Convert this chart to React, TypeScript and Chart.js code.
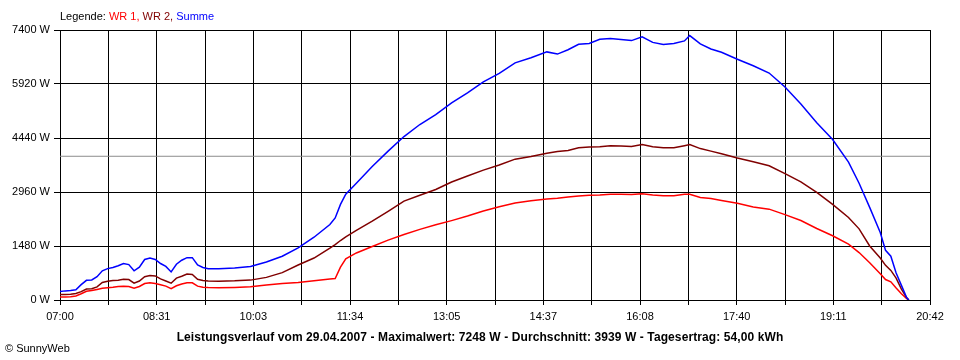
import React, { useEffect, useRef } from 'react';
import { Chart, registerables } from 'chart.js';

Chart.register(...registerables);

// Sample times (clock time)
const times = [
  '07:00','07:05','07:10','07:15','07:20','07:25','07:30','07:35','07:40','07:45',
  '07:50','07:55','08:00','08:05','08:10','08:15','08:20','08:25','08:30','08:35',
  '08:40','08:45','08:50','08:55','09:00','09:05','09:10','09:15','09:20',
  '09:30','09:45','10:00','10:15','10:30','10:45','11:00','11:15',
  '11:20','11:25','11:30',
  '11:40','11:55','12:10','12:25','12:40','12:55','13:10','13:25','13:40','13:55','14:10','14:25','14:40',
  '14:50','15:00','15:10','15:20','15:30','15:40','15:50','16:00','16:10','16:20','16:30','16:40','16:50',
  '16:55',
  '17:05','17:15','17:25',
  '17:40','17:55','18:10','18:25','18:40','18:55','19:10','19:25',
  '19:35','19:45','19:55',
  '20:00','20:05','20:10','20:15','20:20','20:22',
];

// WR 1 (W)
const wr1 = [
  80,80,90,110,170,240,260,290,320,335,350,370,380,370,320,370,450,470,450,420,380,310,390,440,470,470,380,350,340,
  335,345,360,410,450,480,530,575,
  590,900,1130,
  1290,1465,1640,1795,1935,2060,2175,2300,2440,2555,2660,2720,2770,
  2790,2820,2850,2870,2880,2900,2900,2890,2910,2880,2860,2860,2900,
  2900,
  2810,2780,2730,
  2650,2550,2490,2340,2180,1960,1760,1530,
  1300,1020,720,
  560,500,330,170,40,0,
];

// WR 2 (W)
const wr2 = [
  150,150,160,180,230,300,310,360,480,515,535,540,570,560,460,520,640,670,660,580,520,460,600,650,710,700,570,535,520,
  515,525,545,620,750,960,1150,1420,
  1520,1630,1730,
  1910,2160,2430,2710,2870,3030,3235,3400,3560,3700,3860,3930,4020,
  4070,4100,4170,4190,4200,4230,4220,4210,4260,4200,4170,4170,4230,
  4260,
  4150,4080,4010,
  3890,3790,3680,3465,3240,2950,2620,2260,
  1950,1480,1150,
  950,810,600,300,60,0,
];

// Summe (W)
const summe = [
  230,250,260,280,420,540,550,640,800,860,890,940,1000,970,800,900,1110,1150,1110,1000,920,770,980,1090,1160,1160,960,890,855,
  855,880,920,1040,1200,1430,1720,2070,
  2250,2620,2900,
  3200,3660,4080,4480,4810,5080,5400,5680,5980,6210,6500,6640,6800,
  6740,6860,7010,7030,7145,7170,7140,7110,7215,7060,7000,7030,7100,
  7248,
  7020,6880,6790,
  6600,6420,6220,5840,5370,4860,4400,3780,
  3200,2540,1850,
  1360,1200,740,400,60,0,
];

const average = 3939;
const yTicks = [0, 1480, 2960, 4440, 5920, 7400];
const xTickLabels = ['07:00','08:31','10:03','11:34','13:05','14:37','16:08','17:40','19:11','20:42'];

const toMin = (s: string) => {
  const [h, m] = s.split(':').map(Number);
  return h * 60 + m;
};

const FONT = "'Liberation Sans', Arial, sans-serif";

export default function App() {
  const ref = useRef<HTMLCanvasElement | null>(null);

  useEffect(() => {
    if (!ref.current) return;
    const xMin = toMin(xTickLabels[0]);
    const xMax = toMin(xTickLabels[xTickLabels.length - 1]);
    const pts = (vals: number[]) => vals.map((v, i) => ({ x: toMin(times[i]), y: v }));
    const nGrid = (xTickLabels.length - 1) * 2;

    const chart = new Chart(ref.current, {
      type: 'line',
      data: {
        datasets: [
          { label: 'Summe', data: pts(summe), borderColor: '#0000ff', borderWidth: 1.5, pointRadius: 0, order: 1 },
          { label: 'WR 2', data: pts(wr2), borderColor: '#800000', borderWidth: 1.5, pointRadius: 0, order: 2 },
          { label: 'WR 1', data: pts(wr1), borderColor: '#ff0000', borderWidth: 1.5, pointRadius: 0, order: 3 },
          {
            label: 'Durchschnitt',
            data: [{ x: xMin, y: average }, { x: xMax, y: average }],
            borderColor: '#8c8c8c', borderWidth: 1, pointRadius: 0, order: 10,
          },
        ],
      },
      options: {
        responsive: false,
        animation: false,
        layout: { padding: { top: 30, right: 30, left: 0, bottom: 0 } },
        plugins: { legend: { display: false }, tooltip: { enabled: false }, title: { display: false } },
        elements: { line: { tension: 0 } },
        scales: {
          x: {
            type: 'linear',
            min: xMin,
            max: xMax,
            afterBuildTicks: (s: any) => {
              s.ticks = Array.from({ length: nGrid + 1 }, (_, i) => ({ value: xMin + (i * (xMax - xMin)) / nGrid }));
            },
            afterFit: (s: any) => { s.height = 60; },
            grid: { color: '#000', lineWidth: 1, tickLength: 5, drawTicks: true },
            border: { display: true, color: '#000', width: 1 },
            ticks: {
              autoSkip: false,
              maxRotation: 0,
              padding: 5,
              color: '#000',
              font: { family: FONT, size: 11 },
              callback: (_v: any, i: number) => (i % 2 === 0 ? xTickLabels[i / 2] : ''),
            },
          },
          y: {
            min: 0,
            max: 7400,
            afterBuildTicks: (s: any) => { s.ticks = yTicks.map((v) => ({ value: v })); },
            afterFit: (s: any) => { s.width = 60; },
            grid: { color: '#000', lineWidth: 1, tickLength: 6, drawTicks: true },
            border: { display: true, color: '#000', width: 1 },
            ticks: {
              padding: 4,
              color: '#000',
              font: { family: FONT, size: 11 },
              callback: (v: any) => `${v} W`,
            },
          },
        },
      },
    } as any);
    return () => chart.destroy();
  }, []);

  const base: React.CSSProperties = {
    position: 'absolute',
    fontFamily: FONT,
    fontSize: 11,
    lineHeight: '13px',
    color: '#000',
    whiteSpace: 'nowrap',
  };

  return (
    <div style={{ position: 'absolute', left: 0, top: 0, width: 960, height: 360, background: '#fff' }}>
      <canvas ref={ref} width={960} height={360} style={{ display: 'block', width: 960, height: 360 }} />
      <div style={{ ...base, left: 60, top: 10 }}>
        Legende: <span style={{ color: '#ff0000' }}>WR 1,</span>{' '}
        <span style={{ color: '#800000' }}>WR 2,</span>{' '}
        <span style={{ color: '#0000ff' }}>Summe</span>
      </div>
      <div
        style={{
          ...base,
          left: 0,
          width: 960,
          top: 330,
          textAlign: 'center',
          fontWeight: 'bold',
          fontSize: 12,
          lineHeight: '14px',
          letterSpacing: '0.1px',
        }}
      >
        Leistungsverlauf vom 29.04.2007 - Maximalwert: 7248 W - Durchschnitt: 3939 W - Tagesertrag: 54,00 kWh
      </div>
      <div style={{ ...base, left: 5, top: 342 }}>© SunnyWeb</div>
    </div>
  );
}
